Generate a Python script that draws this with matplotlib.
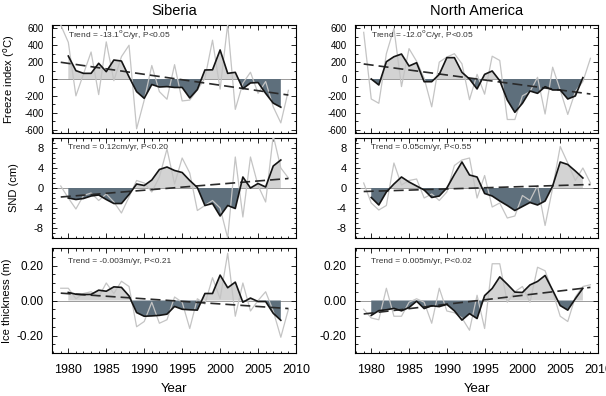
import numpy as np
import matplotlib
matplotlib.use('Agg')
import matplotlib.pyplot as plt
from matplotlib.ticker import MultipleLocator, FormatStrFormatter

plt.rcParams['font.family'] = ['Liberation Sans', 'DejaVu Sans']
plt.rcParams['axes.unicode_minus'] = False

# years: annual values and 3-yr running mean
yrs = np.arange(1979, 2010)
yrs_s = np.arange(1980, 2009)
trend_yrs = [1979, 2009]

# Siberia - freeze index (degC)
sib_fi = [640, 435, -200, 60, 320, -185, 440, -20, 265, 400, -590, -250, 160, -150, -240, 170,
          -260, -250, -130, 10, 460, -120, 650, -360, -50, 80, -170, -30, -330, -520, -134]
sib_fi_s = [272, 99, 67, 67, 186, 87, 225, 213, 25, -150, -229, -65, -95, -90, -100, -100,
            -225, -125, 107, 109, 344, 67, 79, -115, -47, -42, -170, -286, -334]
sib_fi_tr = [198, -190]

# North America - freeze index
na_fi = [553, -237, -288, 300, 600, -90, 360, 210, 10, -330, 200, 260, 300, 180, -245, 55,
         -180, 270, 220, -480, -480, -200, -150, 20, -415, 140, -130, -420, -150, -30, 245]
na_fi_s = [0, -71, 205, 264, 296, 154, 193, -32, -32, 55, 253, 253, 79, 0, -118, 55,
           95, -20, -249, -395, -288, -142, -170, -91, -130, -130, -237, -201, 16]
na_fi_tr = [178, -178]

# Siberia - snow depth (cm)
sib_snd = [0.4, -2.0, -4.2, -1.5, -1.0, -2.5, -1.2, -2.8, -5.0, -1.8, 1.5, 1.0, -0.8, 2.2, 7.8, 0.8,
           6.0, 3.0, -4.5, -3.5, -2.5, -4.0, -10.0, 6.2, -5.8, 6.2, 0.5, -2.8, 10.5, 4.0, 2.0]
sib_snd_s = [-2.0, -2.3, -2.1, -1.6, -1.4, -2.3, -3.1, -3.1, -1.3, 0.8, 0.5, 1.6, 3.7, 4.2, 3.5, 3.1,
             1.5, 0.1, -3.5, -3.1, -5.6, -3.5, -4.1, 2.2, 0.0, 0.9, 0.2, 4.4, 5.6]
sib_snd_tr = [-1.8, 1.9]

# North America - snow depth
na_snd = [1.0, -3.0, -4.4, -3.5, 5.0, 0.6, 1.5, 1.8, -2.0, -1.2, -2.5, -0.8, 4.5, 5.6, 6.0, -2.0,
          2.5, -3.8, -3.0, -6.0, -5.6, -1.5, -2.5, 0.5, -7.5, 0.0, 8.3, 5.0, 1.5, 4.0, 1.0]
na_snd_s = [-1.9, -3.4, -0.8, 0.8, 2.2, 1.2, 0.4, -0.4, -1.9, -1.6, 0.0, 2.7, 5.2, 2.6, 2.2, -1.1,
            -1.6, -2.6, -3.5, -4.5, -3.7, -2.9, -3.4, -2.6, 0.4, 5.2, 4.7, 3.4, 2.0]
na_snd_tr = [-0.7, 0.7]

# Siberia - ice thickness (m)
sib_ice = [0.07, 0.07, 0.01, 0.04, 0.05, 0.02, 0.10, 0.04, 0.11, 0.08, -0.15, -0.12, -0.01, -0.13,
           -0.11, 0.02, -0.01, -0.16, 0.01, -0.02, 0.13, 0.01, 0.27, -0.09, 0.10, -0.06, 0.0,
           0.05, -0.06, -0.21, -0.05]
sib_ice_s = [0.046, 0.036, 0.034, 0.035, 0.059, 0.053, 0.078, 0.075, 0.026, -0.069, -0.09, -0.088,
             -0.085, -0.078, -0.034, -0.05, -0.053, -0.055, 0.04, 0.04, 0.145, 0.073, 0.105,
             -0.01, 0.014, -0.006, -0.006, -0.073, -0.113]
sib_ice_tr = [0.042, -0.046]

# North America - ice thickness
na_ice = [-0.05, -0.10, -0.11, 0.07, -0.09, -0.09, -0.01, 0.01, -0.01, -0.13, 0.07, -0.06, -0.07,
          -0.10, -0.17, 0.03, -0.16, 0.21, 0.21, -0.01, 0.05, 0.08, -0.01, 0.19, 0.17, 0.05,
          -0.09, -0.12, 0.02, 0.08, 0.09]
na_ice_s = [-0.085, -0.058, -0.053, -0.045, -0.059, -0.040, -0.004, -0.046, -0.030, -0.035, -0.022,
            -0.059, -0.112, -0.075, -0.103, 0.028, 0.069, 0.135, 0.093, 0.048, 0.046, 0.089,
            0.109, 0.143, 0.059, -0.029, -0.055, 0.010, 0.070]
na_ice_tr = [-0.077, 0.075]

titles = ['Siberia', 'North America']
ylabels = ['Freeze index ($^{\\rm o}$C)', 'SND (cm)', 'Ice thickness (m)']
trend_txt = [['Trend = -13.1$^{\\rm o}$C/yr, P<0.05', 'Trend = -12.0$^{\\rm o}$C/yr, P<0.05'],
             ['Trend = 0.12cm/yr, P<0.20', 'Trend = 0.05cm/yr, P<0.55'],
             ['Trend = -0.003m/yr, P<0.21', 'Trend = 0.005m/yr, P<0.02']]

rows = [[(sib_fi, sib_fi_s, sib_fi_tr), (na_fi, na_fi_s, na_fi_tr)],
        [(sib_snd, sib_snd_s, sib_snd_tr), (na_snd, na_snd_s, na_snd_tr)],
        [(sib_ice, sib_ice_s, sib_ice_tr), (na_ice, na_ice_s, na_ice_tr)]]

light = '#d3d3d3'
dark = '#5e6f7c'

fig = plt.figure(figsize=(6.06, 3.96), dpi=100)
W, H = 606.0, 396.0
col_x = [(52, 244), (355, 243)]
row_y = [(25, 108), (138, 100), (248, 105)]
ylims = [(-640, 640), (-10, 10), (-0.3, 0.3)]
ymaj = [200, 4, 0.2]
ymin = [100, 1, 0.05]
yfmt = ['%d', '%d', '%.2f']
yfs = [7, 8, 8.5]
txt_y = [0.915, 0.9, 0.87]
lab_x = [-0.145, -0.135, -0.165]

for r in range(3):
    for c in range(2):
        x0, w = col_x[c]
        y0, h = row_y[r]
        ax = fig.add_axes([x0 / W, 1 - (y0 + h) / H, w / W, h / H])
        raw, sm, tr = rows[r][c]
        raw = np.array(raw)
        sm = np.array(sm)
        ax.axhline(0, color='#9a9a9a', lw=0.7, zorder=1)
        ax.fill_between(yrs_s, sm, 0, where=sm >= 0, interpolate=True, color=light, lw=0, zorder=2)
        ax.fill_between(yrs_s, sm, 0, where=sm <= 0, interpolate=True, color=dark, lw=0, zorder=2)
        ax.plot(yrs, raw, color='#c4c4c4', lw=0.9, zorder=3)
        ax.plot(trend_yrs, tr, color='#2a2a2a', lw=1.2, ls=(0, (6, 3)), zorder=4)
        ax.plot(yrs_s, sm, color='#151515', lw=1.2, zorder=5)
        ax.text(0.066, txt_y[r], trend_txt[r][c], transform=ax.transAxes, fontsize=6,
                color='#333333', va='center')

        ax.set_xlim(1977.85, 2010)
        ax.set_ylim(*ylims[r])
        ax.xaxis.set_major_locator(MultipleLocator(5))
        ax.xaxis.set_minor_locator(MultipleLocator(1))
        ax.yaxis.set_major_locator(MultipleLocator(ymaj[r]))
        ax.yaxis.set_minor_locator(MultipleLocator(ymin[r]))
        ax.yaxis.set_major_formatter(FormatStrFormatter(yfmt[r]))
        ax.tick_params(which='both', direction='in', top=True, right=True, width=0.6)
        ax.tick_params(which='major', length=3.5)
        ax.tick_params(which='minor', length=1.8)
        ax.tick_params(axis='y', labelsize=yfs[r], pad=6)
        ax.tick_params(axis='x', labelsize=9, pad=8)
        for s in ax.spines.values():
            s.set_linewidth(0.8)
        if r < 2:
            ax.set_xticklabels([])
        else:
            ax.set_xlabel('Year', fontsize=9.5)
            ax.xaxis.set_label_coords(0.5, -0.29)
        if c == 0:
            ax.set_ylabel(ylabels[r], fontsize=8)
            ax.yaxis.set_label_coords(lab_x[r], 0.5)
        if r == 0:
            ax.set_title(titles[c], fontsize=10.5, pad=7)

fig.savefig('out.png', dpi=100)
